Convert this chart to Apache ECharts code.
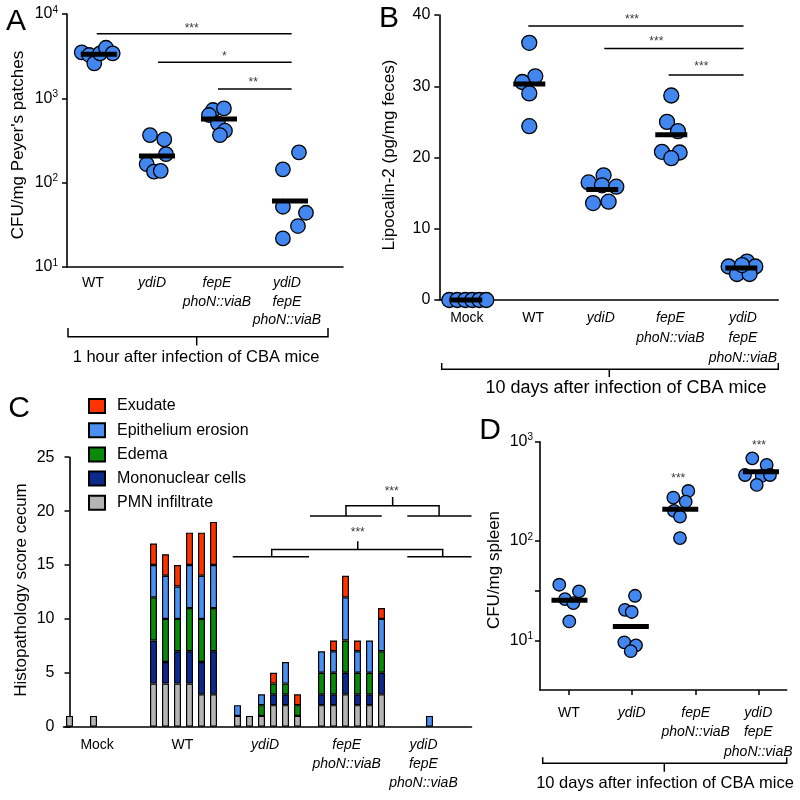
<!DOCTYPE html>
<html><head><meta charset="utf-8">
<script src="https://cdn.jsdelivr.net/npm/echarts@6/dist/echarts.min.js"></script>
<style>html,body{margin:0;padding:0;background:#fff}#c{width:800px;height:800px}</style>
</head><body><div id="c"></div>
<script>
// ================= DATA =================
// Panel A: CFU/mg Peyer's patches (log), x in category-spacing units
const catsA = ['WT', 'ydiD', 'fepE\nphoN::viaB', 'ydiD\nfepE\nphoN::viaB'];
const catXA = [0.405, 1.324, 2.336, 3.427];
const aWT_x = [0.229, 0.347, 0.425, 0.514, 0.607, 0.712];
const aWT_y = [3514, 3265, 2600, 3420, 3980, 3420];
const aYdiD_x = [1.293, 1.516, 1.542, 1.241, 1.355, 1.46];
const aYdiD_y = [367, 326, 218, 166, 135, 138];
const aFepE_x = [2.274, 2.445, 2.212, 2.352, 2.461, 2.383];
const aFepE_y = [727, 760, 634, 505, 413, 367];
const aTriple_x = [3.614, 3.364, 3.364, 3.723, 3.598, 3.364];
const aTriple_y = [229, 144, 51.8, 44, 30.6, 21.8];
const aMed_x = [0.495, 1.402, 2.368, 3.474];
const aMed_y = [3325, 207, 568, 60.5];
const aSig_x1 = [0.463, 1.417, 2.352];
const aSig_x2 = [3.5, 3.5, 3.5];
const aSig_y = [5840, 2673, 1288];
const aSigTxt_x = [1.942, 2.45, 2.902];
const aSigTxt_y = [6637, 3150, 1518];
const aSigTxt = ['***', '*', '**'];

// Panel B: Lipocalin-2
const catsB = ['Mock', 'WT', 'ydiD', 'fepE\nphoN::viaB', 'ydiD\nfepE\nphoN::viaB'];
const catXB = [0.4, 1.36, 2.34, 3.35, 4.4];
const bMock_x = [0.145, 0.261, 0.377, 0.478, 0.58, 0.681];
const bMock_y = [0, 0, 0, 0, 0, 0];
const bWT_x = [1.304, 1.391, 1.203, 1.304, 1.304];
const bWT_y = [36.1, 31.4, 30.6, 29.0, 24.4];
const bYdiD_x = [2.381, 2.164, 2.358, 2.565, 2.228, 2.454];
const bYdiD_y = [17.5, 16.5, 16.1, 15.9, 13.6, 13.8];
const bFepE_x = [3.362, 3.300, 3.459, 3.227, 3.483, 3.362];
const bFepE_y = [28.7, 25.0, 23.7, 20.8, 20.7, 19.9];
const bTriple_x = [4.193, 4.459, 4.580, 4.314, 4.497, 4.387];
const bTriple_y = [4.7, 5.4, 4.7, 3.65, 3.65, 4.9];
const bMed_x = [0.391, 1.304, 2.362, 3.362, 4.377];
const bMed_y = [0, 30.3, 15.5, 23.2, 4.5];
const bSig_x1 = [1.29, 2.391, 3.323];
const bSig_x2 = [4.41, 4.41, 4.41];
const bSig_y = [38.46, 35.3, 31.58];
const bSigTxt_x = [2.793, 3.145, 3.797];
const bSigTxt_y = [39.34, 36.3, 32.8];
const bSigTxt = ['***', '***', '***'];

// Panel C: Histopathology score (6 animals per group)
const catsC = ['Mock', 'WT', 'ydiD', 'fepE\nphoN::viaB', 'ydiD\nfepE\nphoN::viaB'];
const catXC = [2.3, 9.4, 16.3, 23.1, 29.5];
const cPMN   = [[1,0,1,0,0,0], [4,4,4,4,3,3], [1,1,1,2,2,1], [2,2,3,2,2,3], [0,0,0,0,0,0]];
const cMono  = [[0,0,0,0,0,0], [4,2,3,3,3,4], [0,0,0,1,1,0], [1,1,2,1,1,2], [0,0,0,0,0,0]];
const cEdema = [[0,0,0,0,0,0], [4,4,3,4,4,4], [0,0,1,1,1,1], [2,2,3,2,2,2], [0,0,0,0,0,0]];
const cEpi   = [[0,0,0,0,0,0], [3,4,3,4,4,4], [1,0,1,0,2,0], [2,2,4,2,3,3], [0,0,1,0,0,0]];
const cExud  = [[0,0,0,0,0,0], [2,2,2,3,4,4], [0,0,0,1,0,1], [0,1,2,1,0,1], [0,0,0,0,0,0]];
const cLegend = ['Exudate', 'Epithelium erosion', 'Edema', 'Mononuclear cells', 'PMN infiltrate'];
// significance brackets (slot units, score units)
const cUnder = [[20.04, 26.02, 19.55], [28.15, 33.5, 19.55], [13.6, 19.96, 15.77], [28.15, 33.5, 15.77]];
const cBrk = [[23.04, 30.8, 19.55, 20.5, 26.93, 21.3], [16.85, 31.1, 15.77, 16.44, 24.02, 17.2]];
const cSigTxt_x = [26.85, 24.02];
const cSigTxt_y = [21.84, 18.03];
const cSigTxt = ['***', '***'];

// Panel D: CFU/mg spleen (log)
const catsD = ['WT', 'ydiD', 'fepE\nphoN::viaB', 'ydiD\nfepE\nphoN::viaB'];
const catXD = [0.46, 1.456, 2.471, 3.465];
const dWT_x = [0.306, 0.619, 0.397, 0.529, 0.465];
const dWT_y = [36.3, 31.1, 26, 23.7, 15.5];
const dYdiD_x = [1.508, 1.349, 1.456, 1.338, 1.524, 1.44];
const dYdiD_y = [28.1, 20.3, 19.3, 9.55, 8.9, 7.77];
const dFepE_x = [2.354, 2.116, 2.313, 2.127, 2.222, 2.222];
const dFepE_y = [319, 274, 249, 201, 176, 107];
const dTriple_x = [3.37, 3.598, 3.254, 3.519, 3.651, 3.44];
const dTriple_y = [680, 583, 462, 452, 462, 367];
const dMed_x = [0.468, 1.442, 2.227, 3.508];
const dMed_y = [25.4, 13.8, 209, 499];
const dSigTxt_x = [2.195, 3.476];
const dSigTxt_y = [421.7, 912];
const dSigTxt = ['***', '***'];

// ================= STYLE / BUILD =================
const FONT = 'Liberation Sans';
const DOT = '#4286f0';
const COL = { Exudate: '#ff3300', 'Epithelium erosion': '#4a8ff2', Edema: '#0a8a0a', 'Mononuclear cells': '#0c2a8c', 'PMN infiltrate': '#b4b4b4' };

function richLabel(name) {
  return name.split('\n').map(l => (l === 'WT' || l === 'Mock') ? '{n|' + l + '}' : '{i|' + l + '}').join('\n');
}
// labels drawn at 'show' positions; names looked up among all category positions
function catLabel(cats, xs, margin, lh, show) {
  return {
    customValues: show || xs, margin: margin, color: '#000', showMinLabel: true, showMaxLabel: true, hideOverlap: false,
    formatter: function (v) {
      let best = 0;
      xs.forEach((x, i) => { if (Math.abs(x - v) < Math.abs(xs[best] - v)) best = i; });
      return richLabel(cats[best]);
    },
    rich: {
      n: { fontSize: 14, lineHeight: lh, color: '#000', fontFamily: FONT },
      i: { fontSize: 14, lineHeight: lh, fontStyle: 'italic', color: '#000', fontFamily: FONT }
    }
  };
}
const logLabel = {
  margin: 9, color: '#000',
  formatter: function (v) {
    const l = Math.log10(v), e = Math.round(l);
    if (Math.abs(l - e) > 1e-6) return '';
    return '{b|10}{s|' + e + '}';
  },
  rich: { b: { fontSize: 16, lineHeight: 18, fontFamily: FONT, color: '#000' }, s: { fontSize: 10, lineHeight: 10, verticalAlign: 'top', fontFamily: FONT, color: '#000' } }
};
const AXL = { show: true, lineStyle: { color: '#000', width: 1.6 } };
const TICK = { show: true, inside: false, length: 5, lineStyle: { color: '#000', width: 1.5 } };

function pts(xs, ys, xi, yi, size) {
  return { type: 'scatter', xAxisIndex: xi, yAxisIndex: yi, silent: true, clip: false, z: 3,
    data: xs.map((x, k) => [x, ys[k]]), symbol: 'circle', symbolSize: size,
    itemStyle: { color: DOT, borderColor: '#000', borderWidth: 1.3, opacity: 1 } };
}
function med(xs, ys, xi, yi, w) {
  return { type: 'scatter', xAxisIndex: xi, yAxisIndex: yi, silent: true, clip: false, z: 6,
    data: xs.map((x, k) => [x, ys[k]]), symbol: 'rect', symbolSize: [w, 5],
    itemStyle: { color: '#000', opacity: 1 } };
}
function segs(polys, xi, yi) {
  return { type: 'lines', coordinateSystem: 'cartesian2d', xAxisIndex: xi, yAxisIndex: yi, polyline: true, silent: true, z: 4,
    data: polys.map(p => ({ coords: p })), lineStyle: { color: '#000', width: 1.5, opacity: 1 } };
}
function txt(xs, ys, ts, xi, yi) {
  return { type: 'scatter', xAxisIndex: xi, yAxisIndex: yi, silent: true, clip: false, z: 7,
    data: xs.map((x, k) => ({ value: [x, ys[k]], label: { formatter: ts[k] } })),
    symbolSize: 1, itemStyle: { color: 'rgba(0,0,0,0)' },
    label: { show: true, position: 'inside', fontSize: 12, color: '#000', fontFamily: FONT } };
}
function slots(groups) {
  const out = [];
  groups.forEach((g, gi) => { g.forEach(v => out.push(v === 0 ? '-' : v)); if (gi < groups.length - 1) out.push('-'); });
  return out;
}
const nSlots = catsC.length * 7 - 1;
const slotNames = Array.from({ length: nSlots }, (_, i) => 's' + i);

const series = [];
// A
[[aWT_x, aWT_y], [aYdiD_x, aYdiD_y], [aFepE_x, aFepE_y], [aTriple_x, aTriple_y]].forEach(p => series.push(pts(p[0], p[1], 0, 0, 14.5)));
series.push(med(aMed_x, aMed_y, 0, 0, 36));
series.push(segs(aSig_y.map((y, i) => [[aSig_x1[i], y], [aSig_x2[i], y]]), 0, 0));
series.push(txt(aSigTxt_x, aSigTxt_y, aSigTxt, 0, 0));
// B
[[bMock_x, bMock_y], [bWT_x, bWT_y], [bYdiD_x, bYdiD_y], [bFepE_x, bFepE_y], [bTriple_x, bTriple_y]].forEach(p => series.push(pts(p[0], p[1], 1, 1, 15)));
series.push(med(bMed_x, bMed_y, 1, 1, 32));
series.push(segs(bSig_y.map((y, i) => [[bSig_x1[i], y], [bSig_x2[i], y]]), 1, 1));
series.push(txt(bSigTxt_x, bSigTxt_y, bSigTxt, 1, 1));
// C bars
[['PMN infiltrate', cPMN], ['Mononuclear cells', cMono], ['Edema', cEdema], ['Epithelium erosion', cEpi], ['Exudate', cExud]].forEach(s => {
  series.push({ type: 'bar', name: s[0], xAxisIndex: 2, yAxisIndex: 2, stack: 'hp', silent: true, barWidth: 7,
    data: slots(s[1]), itemStyle: { color: COL[s[0]], borderColor: '#000', borderWidth: 1.2 } });
});
const cPolys = cUnder.map(u => [[u[0], u[2]], [u[1], u[2]]]);
cBrk.forEach(b => { cPolys.push([[b[0], b[2]], [b[0], b[3]], [b[1], b[3]], [b[1], b[2]]]); cPolys.push([[b[4], b[3]], [b[4], b[5]]]); });
series.push(segs(cPolys, 3, 2));
series.push(txt(cSigTxt_x, cSigTxt_y, cSigTxt, 3, 2));
// D
[[dWT_x, dWT_y], [dYdiD_x, dYdiD_y], [dFepE_x, dFepE_y], [dTriple_x, dTriple_y]].forEach(p => series.push(pts(p[0], p[1], 4, 3, 12.5)));
series.push(med(dMed_x, dMed_y, 4, 3, 36));
series.push(txt(dSigTxt_x, dSigTxt_y, dSigTxt, 4, 3));

const G = (l, t, w, h) => ({ left: l, top: t, width: w, height: h, containLabel: false, outerBoundsMode: 'none' });

const option = {
  animation: false,
  backgroundColor: '#fff',
  textStyle: { fontFamily: FONT, color: '#000' },
  grid: [G(67, 14, 276, 253), G(439.3, 15, 339, 285), G(63.5, 457.2, 408, 269.5), G(540, 441.7, 246.7, 248.3)],
  xAxis: [
    { gridIndex: 0, type: 'value', position: 'bottom', min: 0, max: 4.3, axisLine: AXL, axisTick: { show: false }, splitLine: { show: false }, axisLabel: catLabel(catsA, catXA, 7, 18.5) },
    { gridIndex: 1, type: 'value', position: 'bottom', min: 0, max: 4.913, axisLine: AXL, axisTick: { show: false }, splitLine: { show: false }, axisLabel: catLabel(catsB, catXB, 8, 20) },
    { gridIndex: 2, type: 'category', position: 'bottom', data: slotNames, boundaryGap: true, axisLine: AXL, axisTick: { show: false }, axisLabel: { show: false }, splitLine: { show: false } },
    { gridIndex: 2, type: 'value', position: 'bottom', offset: 0, min: -0.5, max: nSlots - 0.5, axisLine: { show: false }, axisTick: { show: false }, splitLine: { show: false }, axisLabel: catLabel(catsC, catXC, 9, 19) },
    { gridIndex: 3, type: 'value', position: 'bottom', min: 0, max: 3.916, axisLine: AXL, axisTick: Object.assign({ customValues: catXD }, TICK), splitLine: { show: false }, axisLabel: catLabel(catsD, catXD, 13, 19.5, [catXD[0], catXD[1], catXD[3]]) },
    { gridIndex: 3, type: 'value', position: 'bottom', offset: 0, min: 0, max: 3.916, axisLine: { show: false }, axisTick: { show: false }, splitLine: { show: false }, axisLabel: catLabel(catsD, catXD, 13, 19.5, [catXD[2]]) }
  ],
  yAxis: [
    { gridIndex: 0, type: 'log', logBase: 10, min: 10, max: 10000, axisLine: AXL, axisTick: TICK, splitLine: { show: false }, minorTick: { show: false }, axisLabel: logLabel },
    { gridIndex: 1, type: 'value', min: 0, max: 40, interval: 10, axisLine: AXL, axisTick: TICK, splitLine: { show: false }, axisLabel: { margin: 9, fontSize: 16, color: '#000', fontFamily: FONT } },
    { gridIndex: 2, type: 'value', min: 0, max: 25, interval: 5, axisLine: AXL, axisTick: TICK, splitLine: { show: false }, axisLabel: { margin: 9, fontSize: 16, color: '#000', fontFamily: FONT } },
    { gridIndex: 3, type: 'log', logBase: 10, min: 3.1623, max: 1000, axisLine: AXL, axisTick: Object.assign({ customValues: [10, 31.623, 100, 1000] }, TICK), splitLine: { show: false }, axisLabel: Object.assign({}, logLabel, { margin: 7, customValues: [10, 100, 1000] }) }
  ],
  legend: {
    data: cLegend, orient: 'vertical', left: 88, top: 398, padding: 0, itemWidth: 16, itemHeight: 14, itemGap: 8.2, icon: 'rect', selectedMode: false,
    textStyle: { fontSize: 16, color: '#000', fontFamily: FONT, lineHeight: 14, padding: [0, 0, 0, 7] }
  },
  graphic: [
    { type: 'text', x: 16, y: 22, style: { text: 'A', fontSize: 30, fontFamily: FONT, fill: '#000', align: 'center', verticalAlign: 'middle' } },
    { type: 'text', x: 389, y: 19, style: { text: 'B', fontSize: 30, fontFamily: FONT, fill: '#000', align: 'center', verticalAlign: 'middle' } },
    { type: 'text', x: 19, y: 409, style: { text: 'C', fontSize: 30, fontFamily: FONT, fill: '#000', align: 'center', verticalAlign: 'middle' } },
    { type: 'text', x: 490, y: 431, style: { text: 'D', fontSize: 30, fontFamily: FONT, fill: '#000', align: 'center', verticalAlign: 'middle' } },
    { type: 'text', x: 18, y: 145, rotation: Math.PI / 2, style: { text: "CFU/mg Peyer's patches", fontSize: 17, fontFamily: FONT, fill: '#000', align: 'center', verticalAlign: 'middle' } },
    { type: 'text', x: 389, y: 155, rotation: Math.PI / 2, style: { text: 'Lipocalin-2 (pg/mg feces)', fontSize: 17, fontFamily: FONT, fill: '#000', align: 'center', verticalAlign: 'middle' } },
    { type: 'text', x: 21, y: 590, rotation: Math.PI / 2, style: { text: 'Histopathology score cecum', fontSize: 17, fontFamily: FONT, fill: '#000', align: 'center', verticalAlign: 'middle' } },
    { type: 'text', x: 494, y: 570, rotation: Math.PI / 2, style: { text: 'CFU/mg spleen', fontSize: 17, fontFamily: FONT, fill: '#000', align: 'center', verticalAlign: 'middle' } },
    { type: 'polyline', shape: { points: [[68, 328], [68, 336.7], [328, 336.7], [328, 328]] }, style: { stroke: '#000', lineWidth: 1.5, fill: null } },
    { type: 'polyline', shape: { points: [[196.7, 336.7], [196.7, 345.5]] }, style: { stroke: '#000', lineWidth: 1.5, fill: null } },
    { type: 'text', x: 196, y: 357, style: { text: '1 hour after infection of CBA mice', fontSize: 16.5, fontFamily: FONT, fill: '#000', align: 'center', verticalAlign: 'middle' } },
    { type: 'polyline', shape: { points: [[441.7, 363], [441.7, 369.3], [778.3, 369.3], [778.3, 363]] }, style: { stroke: '#000', lineWidth: 1.5, fill: null } },
    { type: 'polyline', shape: { points: [[609.3, 369.3], [609.3, 377]] }, style: { stroke: '#000', lineWidth: 1.5, fill: null } },
    { type: 'text', x: 626, y: 388, style: { text: '10 days after infection of CBA mice', fontSize: 18, fontFamily: FONT, fill: '#000', align: 'center', verticalAlign: 'middle' } },
    { type: 'polyline', shape: { points: [[542.7, 757.3], [542.7, 763.3], [786.7, 763.3], [786.7, 757.3]] }, style: { stroke: '#000', lineWidth: 1.5, fill: null } },
    { type: 'polyline', shape: { points: [[664.3, 763.3], [664.3, 771.7]] }, style: { stroke: '#000', lineWidth: 1.5, fill: null } },
    { type: 'text', x: 665, y: 783, style: { text: '10 days after infection of CBA mice', fontSize: 16.5, fontFamily: FONT, fill: '#000', align: 'center', verticalAlign: 'middle' } }
  ],
  series: series
};
const chart = echarts.init(document.getElementById('c'), null, { renderer: 'canvas' });
chart.setOption(option);
</script></body></html>
